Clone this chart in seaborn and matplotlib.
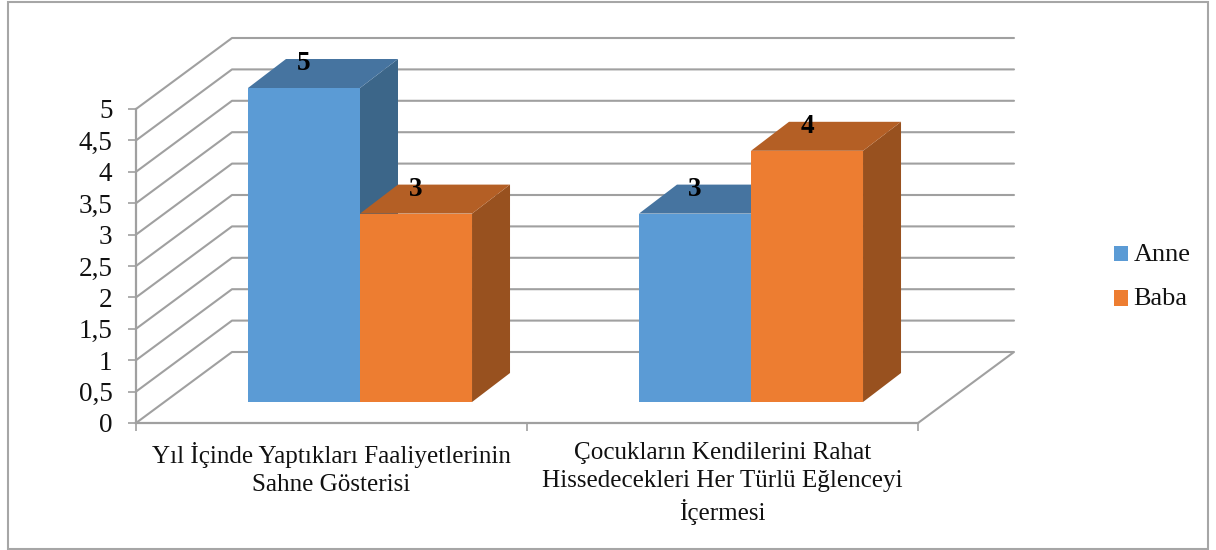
# Pseudo-3D clustered columns, Anne vs Baba
import pandas as pd
import matplotlib.pyplot as plt
import seaborn as sns
from matplotlib.lines import Line2D
from matplotlib.patches import Patch, Polygon, Rectangle
from matplotlib.transforms import Affine2D, IdentityTransform

categories = ['Yıl İçinde Yaptıkları Faaliyetlerinin\nSahne Gösterisi',
              'Çocukların Kendilerini Rahat\nHissedecekleri Her Türlü Eğlenceyi\nİçermesi']
anne_values = [5, 3]
baba_values = [3, 4]
y_ticks = [0, 0.5, 1, 1.5, 2, 2.5, 3, 3.5, 4, 4.5, 5]
y_tick_labels = ['0', '0,5', '1', '1,5', '2', '2,5', '3', '3,5', '4', '4,5', '5']
series_names = ['Anne', 'Baba']
front_colors = ['#5B9BD5', '#ED7D31']
top_colors = ['#4674A0', '#B45F25']
side_colors = ['#3C6689', '#98511F']

GRID = '#A0A0A0'
W, H = 1216, 550
WALL_DX, WALL_DY = 96, 71      # depth of the floor, in px
BAR_DX, BAR_DY = 28.5, 21      # where the bars stand on the floor
DEPTH_DX, DEPTH_DY = 38, 29    # depth of the bars

sns.set_style('white')
plt.rcParams['font.family'] = ['Liberation Serif', 'DejaVu Serif']

df = pd.DataFrame({
    'category': categories * 2,
    'series': [series_names[0]] * 2 + [series_names[1]] * 2,
    'value': anne_values + baba_values,
})

fig = plt.figure(figsize=(W / 100, H / 100), dpi=100)
ax = fig.add_axes([136 / W, 1 - 423 / H, 782 / W, 314 / H])
ax.patch.set_alpha(0)

sns.barplot(data=df, x='category', y='value', hue='series', palette=front_colors,
            hue_order=series_names, order=categories, width=0.573, gap=0,
            saturation=1, legend=False, linewidth=0, ax=ax)
ax.set_xlim(-0.5, 1.5)
ax.set_ylim(0, 5)
ax.set_xlabel('')
ax.set_ylabel('')
ax.set_yticks(y_ticks)
ax.set_yticklabels(y_tick_labels, fontsize=19.5, color='#111111')
ax.set_xticks([-0.5, 0.5, 1.5])
ax.set_xticklabels([])
ax.tick_params(axis='both', length=5.5, width=1.2, color=GRID, left=True, bottom=True)
ax.tick_params(axis='y', pad=11.5)
for name in ['top', 'right']:
    ax.spines[name].set_visible(False)
for name in ['left', 'bottom']:
    ax.spines[name].set_color(GRID)
    ax.spines[name].set_linewidth(1.6)

# category labels as text under the gaps between the ticks
for i, label in enumerate(categories):
    ax.annotate(label, xy=(i, 0), xycoords='data', xytext=(0, -19), textcoords='offset pixels',
                ha='center', va='top', fontsize=18.1, color='#111111', linespacing=1.33)

# back wall and floor
ident = IdentityTransform()
for v in y_ticks:
    x0, y0 = ax.transData.transform((-0.5, v))
    x1, _ = ax.transData.transform((1.5, v))
    if v == 0:
        xs = [x1, x1 + WALL_DX, x0 + WALL_DX, x0]
        ys = [y0, y0 + WALL_DY, y0 + WALL_DY, y0]
    else:
        xs = [x0, x0 + WALL_DX, x1 + WALL_DX]
        ys = [y0, y0 + WALL_DY, y0 + WALL_DY]
    ax.add_line(Line2D(xs, ys, transform=ident, color=GRID, lw=1.5, clip_on=False, zorder=0.5))

# move the flat bars forward and give them a top and a side
bars = [p for p in ax.patches if isinstance(p, Rectangle)]
shift = Affine2D().translate(BAR_DX, BAR_DY)
order = sorted(range(len(bars)), key=lambda k: bars[k].get_x())
for z, k in enumerate(order):
    bar = bars[k]
    s = k // len(categories)
    xa, yb = ax.transData.transform((bar.get_x(), 0))
    xb, yt = ax.transData.transform((bar.get_x() + bar.get_width(), bar.get_height()))
    xa, xb, yb, yt = xa + BAR_DX, xb + BAR_DX, yb + BAR_DY, yt + BAR_DY
    base = 2 + z * 0.1
    side = [(xb, yb), (xb + DEPTH_DX, yb + DEPTH_DY), (xb + DEPTH_DX, yt + DEPTH_DY), (xb, yt)]
    top = [(xa, yt), (xb, yt), (xb + DEPTH_DX, yt + DEPTH_DY), (xa + DEPTH_DX, yt + DEPTH_DY)]
    ax.add_patch(Polygon(side, transform=ident, fc=side_colors[s], ec='none', clip_on=False, zorder=base))
    ax.add_patch(Polygon(top, transform=ident, fc=top_colors[s], ec='none', clip_on=False, zorder=base + 0.01))
    bar.set_transform(ax.transData + shift)
    bar.set_clip_on(False)
    bar.set_zorder(base + 0.02)
    ax.annotate(f'{bar.get_height():g}', xy=((xa + xb) / 2, yt), xycoords=ident,
                xytext=(0, 24), textcoords='offset pixels', ha='center', va='center',
                fontsize=19.5, fontweight='bold', color='black', zorder=5, annotation_clip=False)

# legend
handles = [Patch(fc=c, ec='none', label=n) for c, n in zip(front_colors, series_names)]
leg = fig.legend(handles=handles, loc='center left', bbox_to_anchor=(1090 / W, 1 - 277 / H),
                 frameon=False, fontsize=19, handlelength=0.53, handleheight=0.53,
                 handletextpad=0.22, labelspacing=0.85, labelcolor='#111111')
for h in leg.legend_handles:
    h.set_y(h.get_y() - 1.5)

# outer frame
fig.add_artist(Rectangle((8 / W, 1 / H), (W - 16) / W, (H - 3) / H, transform=fig.transFigure,
                         fc='none', ec='#A6A6A6', lw=1.5))

fig.savefig('out.png', dpi=100)
